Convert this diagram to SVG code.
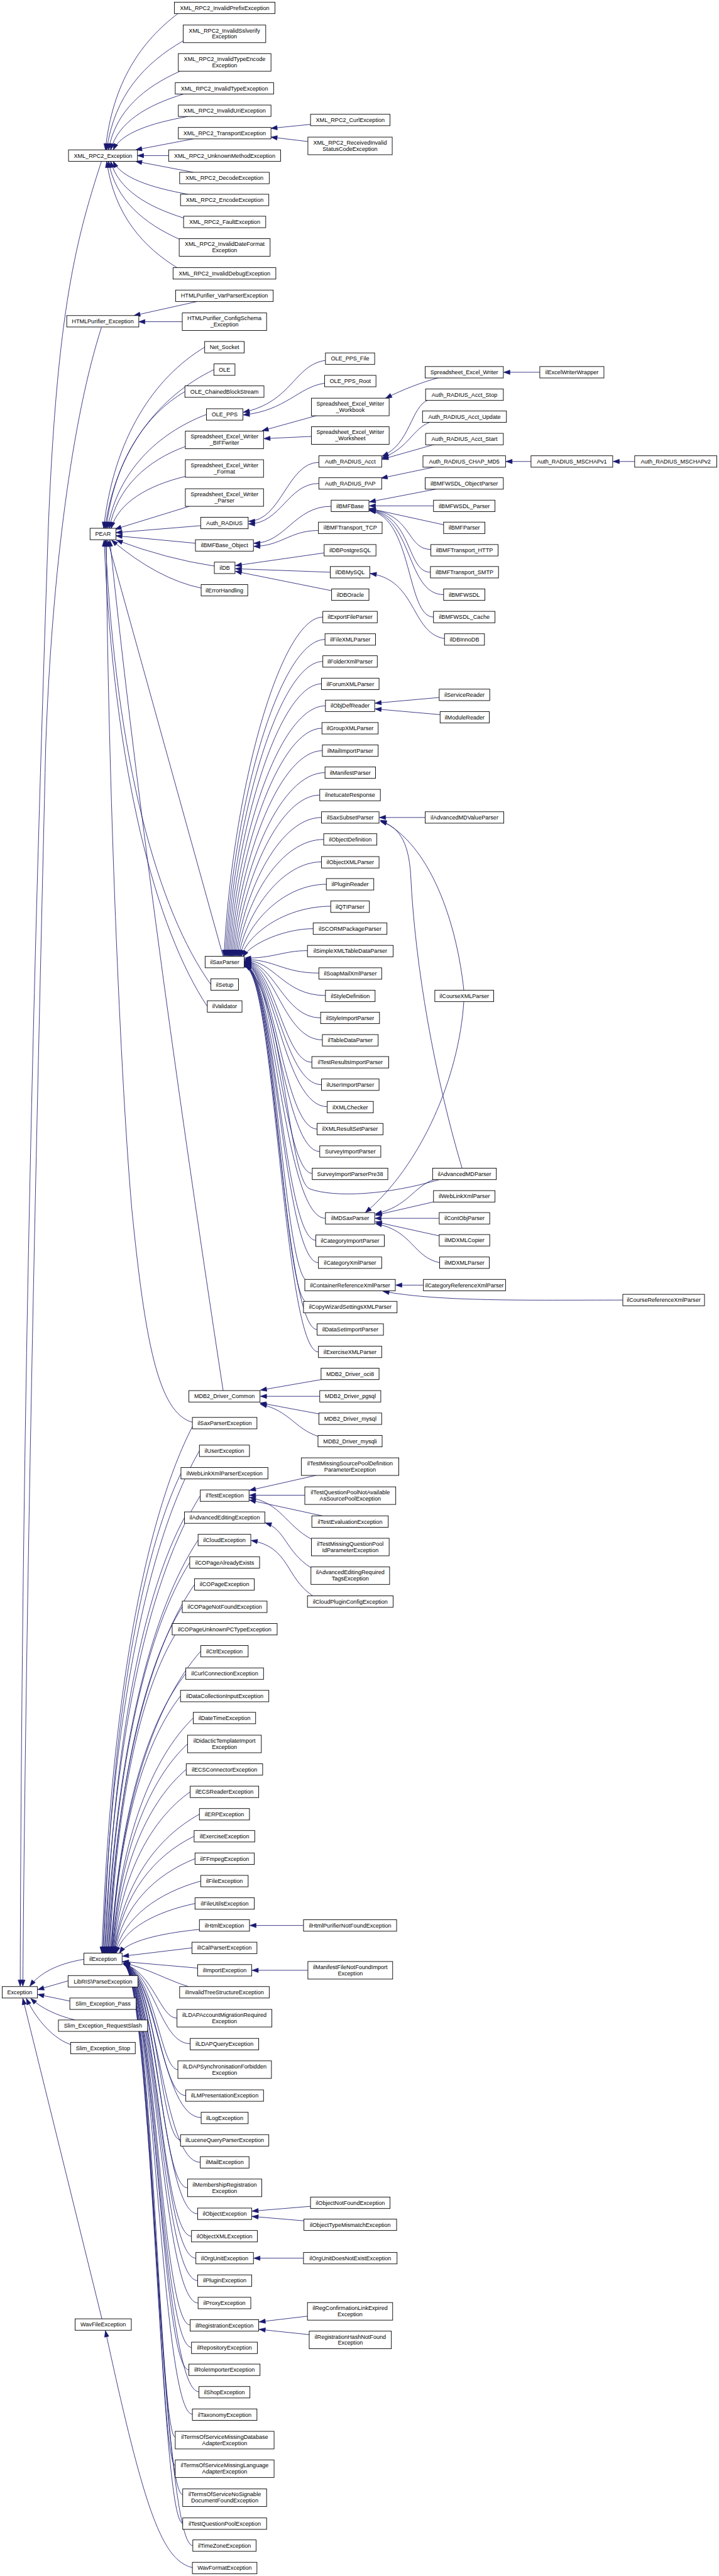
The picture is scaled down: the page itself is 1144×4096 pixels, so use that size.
<svg xmlns="http://www.w3.org/2000/svg" width="1144" height="4096" viewBox="0 0 1144 4096">
<style>
.n rect{fill:#fff;stroke:#000;stroke-width:1.3}
.n text{font-family:"Liberation Sans",Arial,Helvetica,sans-serif;font-size:13px;text-anchor:middle;fill:#000}
.e path{fill:none;stroke:#191970;stroke-width:1.2;marker-end:url(#arr)}
</style>
<defs>
<marker id="arr" markerUnits="userSpaceOnUse" markerWidth="14" markerHeight="10" refX="14" refY="5" orient="auto" overflow="visible">
<path d="M0,0 L14,5 L0,10 z" fill="#191970" stroke="#191970" stroke-width="1"/>
</marker>
</defs>
<rect x="0" y="0" width="1144" height="4096" fill="#fff"/>
<g transform="scale(0.69884)">
<g id="edges" class="e">
<path d="M231,367 C175,540 130,700 110,1200 C90,1800 50,3000 46,4519"/>
<path d="M231,745 C165,950 118,1300 104,1700 C90,2300 60,3500 52,4519"/>
<path d="M191,4458 C130,4468 90,4490 68,4519"/>
<path d="M155,4507 L86,4527"/>
<path d="M159,4553 L86,4538"/>
<path d="M171,4596 C130,4586 95,4570 70,4547"/>
<path d="M161,4652 C125,4640 85,4600 60,4547"/>
<path d="M232,5276 L52,4547"/>
<path d="M405,31 C323,93 256,186 240,341"/>
<path d="M417,93 C330,143 260,217 243,341"/>
<path d="M410,162 C329,198 263,252 247,341"/>
<path d="M418,214 C335,239 269,278 252,341"/>
<path d="M428,265 C343,280 275,303 258,341"/>
<path d="M440,316 L309,341"/>
<path d="M384,354 L313,354"/>
<path d="M440,392 L309,367"/>
<path d="M428,442 C343,427 275,404 258,367"/>
<path d="M418,496 C335,470 269,431 252,367"/>
<path d="M410,545 C329,509 263,456 247,367"/>
<path d="M408,612 C326,563 260,489 243,367"/>
<path d="M707,283 L617,292"/>
<path d="M701,322 L617,312"/>
<path d="M449,686 L305,718"/>
<path d="M415,732 L316,732"/>
<path d="M466,790 C351,859 259,996 236,1202"/>
<path d="M487,841 C363,901 264,1022 239,1202"/>
<path d="M421,891 C332,943 260,1047 242,1202"/>
<path d="M470,943 C358,986 268,1073 245,1202"/>
<path d="M422,1016 C336,1047 266,1109 249,1202"/>
<path d="M422,1084 C338,1104 270,1143 253,1202"/>
<path d="M431,1152 L262,1204"/>
<path d="M457,1196 L264,1212"/>
<path d="M445,1236 L264,1219"/>
<path d="M488,1288 Q380,1272 265,1229"/>
<path d="M458,1338 Q360,1318 254,1229"/>
<path d="M508,2176 L245,1229"/>
<path d="M480,2240 C360,2072 264,1735 240,1229"/>
<path d="M472,2290 C355,2113 260,1760 237,1229"/>
<path d="M508,3164 Q330,2000 250,1229"/>
<path d="M438,3236 C360,3215 330,3050 300,2750 C270,2400 245,1700 242,1229"/>
<path d="M726,1052 C655,1052 640,1186 566,1186"/>
<path d="M726,1100 C655,1100 640,1192 566,1192"/>
<path d="M754,1152 C670,1152 650,1236 578,1236"/>
<path d="M725,1207 C660,1207 640,1243 578,1243"/>
<path d="M738,1258 L536,1287"/>
<path d="M752,1302 L536,1294"/>
<path d="M755,1344 L536,1300"/>
<path d="M741,820 C670,830 665,915 554,938"/>
<path d="M739,872 C680,880 650,935 554,944"/>
<path d="M723,945 L597,980"/>
<path d="M709,993 L601,998"/>
<path d="M1000,859 C960,870 920,885 878,906"/>
<path d="M1229,847 L1147,847"/>
<path d="M975,910 C935,925 935,1010 870,1038"/>
<path d="M978,961 C940,975 930,1020 870,1042"/>
<path d="M990,1011 L870,1045"/>
<path d="M992,1062 L868,1088"/>
<path d="M1209,1050 L1152,1050"/>
<path d="M1445,1050 L1396,1050"/>
<path d="M992,1113 L841,1142"/>
<path d="M987,1151 L841,1151"/>
<path d="M1010,1194 L841,1157"/>
<path d="M981,1250 C925,1250 940,1170 841,1159"/>
<path d="M980,1302 C925,1302 940,1172 841,1160"/>
<path d="M1010,1353 C925,1353 940,1174 841,1161"/>
<path d="M987,1404 C925,1404 940,1176 841,1162"/>
<path d="M1012,1453 C935,1440 950,1320 843,1305"/>
<path d="M735,1404 C640,1404 530,1790 510,2176"/>
<path d="M740,1455 C640,1455 533,1816 513,2176"/>
<path d="M735,1505 C640,1505 536,1841 516,2176"/>
<path d="M732,1556 C640,1556 539,1866 519,2176"/>
<path d="M741,1606 C640,1606 542,1891 522,2176"/>
<path d="M733,1657 C640,1657 545,1917 525,2176"/>
<path d="M734,1708 C640,1708 548,1942 528,2176"/>
<path d="M740,1758 C640,1758 551,1967 531,2176"/>
<path d="M728,1809 C640,1809 554,1993 534,2176"/>
<path d="M732,1860 C640,1860 557,2018 537,2176"/>
<path d="M737,1910 C640,1910 560,2043 540,2176"/>
<path d="M732,1961 C645,1961 563,2069 543,2176"/>
<path d="M743,2012 C650,2012 566,2094 546,2176"/>
<path d="M753,2062 C655,2062 569,2119 549,2176"/>
<path d="M713,2113 C650,2113 573,2145 553,2177"/>
<path d="M700,2163 C645,2163 625,2180 557,2180"/>
<path d="M726,2214 C645,2214 625,2183 557,2183"/>
<path d="M741,2265 C645,2265 625,2185 557,2185"/>
<path d="M730,2316 C645,2316 625,2187 557,2187"/>
<path d="M734,2366 C645,2366 625,2188 557,2188"/>
<path d="M710,2417 C645,2417 625,2189 557,2189"/>
<path d="M732,2468 C645,2468 625,2190 557,2190"/>
<path d="M745,2518 C645,2518 625,2191 557,2191"/>
<path d="M722,2569 C645,2569 625,2192 557,2192"/>
<path d="M728,2620 C645,2620 625,2193 557,2193"/>
<path d="M711,2670 C645,2670 625,2194 557,2194"/>
<path d="M1003,2683 C880,2720 760,2725 705,2705 C655,2685 645,2250 557,2196"/>
<path d="M741,2772 C645,2772 625,2196 557,2196"/>
<path d="M719,2822 C645,2822 625,2197 557,2197"/>
<path d="M725,2873 C645,2873 625,2198 557,2198"/>
<path d="M700,2915 C645,2900 625,2199 557,2199"/>
<path d="M698,2963 C645,2950 625,2199 557,2199"/>
<path d="M722,3025 C645,3025 625,2200 557,2200"/>
<path d="M725,3076 C645,3076 625,2200 557,2200"/>
<path d="M968,1860 L864,1860"/>
<path d="M1056,2253 C1040,2100 980,1920 866,1866"/>
<path d="M1052,2658 C990,2450 945,2200 935,1990 C930,1910 905,1880 866,1869"/>
<path d="M1000,1587 L854,1600"/>
<path d="M1002,1626 L854,1613"/>
<path d="M1056,2279 C1045,2450 960,2650 832,2759"/>
<path d="M990,2683 C940,2700 930,2745 855,2762"/>
<path d="M990,2734 L855,2765"/>
<path d="M1000,2772 L854,2772"/>
<path d="M1000,2812 L855,2780"/>
<path d="M1001,2873 C940,2860 940,2800 855,2784"/>
<path d="M964,2924 L901,2924"/>
<path d="M1418,2958 C1200,2958 1000,2962 872,2938"/>
<path d="M731,3139 L593,3163"/>
<path d="M728,3177 L593,3177"/>
<path d="M726,3217 L592,3192"/>
<path d="M724,3268 C670,3250 660,3210 593,3195"/>
<path d="M438,3246 C335,3446 253,3845 232,4444"/>
<path d="M454,3301 C344,3491 256,3873 234,4444"/>
<path d="M412,3352 C324,3534 254,3898 236,4444"/>
<path d="M456,3403 C347,3577 260,3924 238,4444"/>
<path d="M420,3453 C330,3618 258,3949 240,4444"/>
<path d="M451,3504 C347,3661 263,3974 242,4444"/>
<path d="M432,3555 C338,3703 263,4000 244,4444"/>
<path d="M443,3605 C345,3745 266,4025 246,4444"/>
<path d="M415,3656 C332,3787 265,4050 248,4444"/>
<path d="M399,3719 C325,3840 265,4082 250,4444"/>
<path d="M457,3757 C355,3872 273,4101 252,4444"/>
<path d="M423,3808 C338,3914 270,4126 253,4444"/>
<path d="M411,3859 C333,3957 270,4152 254,4444"/>
<path d="M440,3909 C348,3998 274,4177 255,4444"/>
<path d="M427,3968 C342,4047 273,4206 256,4444"/>
<path d="M424,4026 C341,4096 274,4235 257,4444"/>
<path d="M433,4077 C346,4138 276,4261 258,4444"/>
<path d="M454,4128 C357,4181 279,4286 259,4444"/>
<path d="M442,4178 C351,4222 278,4311 260,4444"/>
<path d="M444,4229 C353,4265 279,4337 261,4444"/>
<path d="M457,4280 C360,4307 282,4362 262,4444"/>
<path d="M444,4331 C354,4350 282,4388 264,4444"/>
<path d="M454,4390 C363,4399 290,4417 272,4444"/>
<path d="M437,4432 L279,4451"/>
<path d="M450,4478 L279,4463"/>
<path d="M429,4520 C380,4505 340,4480 281,4466"/>
<path d="M403,4592 C365,4592 350,4490 281,4467"/>
<path d="M433,4650 C365,4650 352,4490 281,4467"/>
<path d="M405,4709 C365,4709 354,4490 281,4467"/>
<path d="M423,4768 C365,4768 356,4490 281,4468"/>
<path d="M458,4818 C368,4818 357,4490 281,4468"/>
<path d="M411,4869 C365,4869 358,4490 281,4468"/>
<path d="M456,4920 C368,4920 359,4490 281,4468"/>
<path d="M427,4978 C365,4978 360,4490 281,4469"/>
<path d="M450,5037 C368,5037 360,4490 281,4469"/>
<path d="M436,5088 C366,5088 358,4490 281,4469"/>
<path d="M446,5138 C368,5138 357,4490 281,4469"/>
<path d="M450,5189 C368,5189 356,4490 281,4469"/>
<path d="M451,5240 C368,5240 355,4490 281,4469"/>
<path d="M433,5290 C366,5290 354,4490 281,4469"/>
<path d="M436,5341 C366,5341 353,4490 281,4469"/>
<path d="M430,5392 C366,5392 352,4490 281,4469"/>
<path d="M453,5442 C368,5442 351,4490 281,4469"/>
<path d="M438,5493 C366,5493 350,4490 281,4469"/>
<path d="M399,5545 C362,5545 349,4490 281,4469"/>
<path d="M399,5610 C362,5610 348,4490 281,4469"/>
<path d="M416,5676 C364,5676 347,4490 281,4469"/>
<path d="M416,5741 C364,5741 346,4490 281,4469"/>
<path d="M439,5792 C366,5792 345,4490 281,4469"/>
<path d="M719,3357 L568,3391"/>
<path d="M694,3402 L568,3402"/>
<path d="M734,3449 L568,3413"/>
<path d="M709,3502 C650,3470 640,3420 568,3407"/>
<path d="M708,3567 C650,3530 650,3480 604,3465"/>
<path d="M712,3631 C650,3590 660,3520 572,3505"/>
<path d="M691,4381 L569,4381"/>
<path d="M701,4483 L574,4483"/>
<path d="M707,5020 L574,5031"/>
<path d="M692,5053 L574,5043"/>
<path d="M691,5138 L578,5138"/>
<path d="M700,5270 L590,5283"/>
<path d="M704,5312 L590,5300"/>
<path d="M438,5842 C370,5825 330,5720 240,5303"/>
</g>
<g id="nodes">
<g id="Exception" class="n"><rect x="5" y="4520" width="80" height="26"/><text x="45" y="4537.5">Exception</text></g>
<g id="XML_RPC2_Exception" class="n"><rect x="156" y="341" width="157" height="26"/><text x="234.5" y="358.5">XML_RPC2_Exception</text></g>
<g id="HTMLPurifier_Exception" class="n"><rect x="152" y="718" width="164" height="26"/><text x="234" y="735.5">HTMLPurifier_Exception</text></g>
<g id="PEAR" class="n"><rect x="205" y="1202" width="59" height="26"/><text x="234.5" y="1219.5">PEAR</text></g>
<g id="ilException" class="n"><rect x="191" y="4444" width="87" height="26"/><text x="234.5" y="4461.5">ilException</text></g>
<g id="LibRIS_ParseException" class="n"><rect x="155" y="4495" width="159" height="26"/><text x="234.5" y="4512.5">LibRIS\ParseException</text></g>
<g id="Slim_Exception_Pass" class="n"><rect x="159" y="4546" width="151" height="26"/><text x="234.5" y="4563.5">Slim_Exception_Pass</text></g>
<g id="Slim_Exception_RequestSlash" class="n"><rect x="133" y="4596" width="203" height="26"/><text x="234.5" y="4613.5">Slim_Exception_RequestSlash</text></g>
<g id="Slim_Exception_Stop" class="n"><rect x="161" y="4647" width="147" height="26"/><text x="234.5" y="4664.5">Slim_Exception_Stop</text></g>
<g id="WavFileException" class="n"><rect x="171" y="5276" width="128" height="26"/><text x="235" y="5293.5">WavFileException</text></g>
<g id="XML_RPC2_InvalidPrefixException" class="n"><rect x="397" y="5" width="229" height="26"/><text x="511.5" y="22.5">XML_RPC2_InvalidPrefixException</text></g>
<g id="XML_RPC2_InvalidSslverifyException" class="n"><rect x="417" y="57" width="188" height="40"/><text x="511" y="74">XML_RPC2_InvalidSslverify</text><text x="511" y="88">Exception</text></g>
<g id="XML_RPC2_InvalidTypeEncodeException" class="n"><rect x="406" y="122" width="211" height="40"/><text x="511.5" y="139">XML_RPC2_InvalidTypeEncode</text><text x="511.5" y="153">Exception</text></g>
<g id="XML_RPC2_InvalidTypeException" class="n"><rect x="399" y="188" width="224" height="26"/><text x="511" y="205.5">XML_RPC2_InvalidTypeException</text></g>
<g id="XML_RPC2_InvalidUriException" class="n"><rect x="406" y="239" width="211" height="26"/><text x="511.5" y="256.5">XML_RPC2_InvalidUriException</text></g>
<g id="XML_RPC2_TransportException" class="n"><rect x="406" y="290" width="211" height="26"/><text x="511.5" y="307.5">XML_RPC2_TransportException</text></g>
<g id="XML_RPC2_UnknownMethodException" class="n"><rect x="384" y="341" width="255" height="26"/><text x="511.5" y="358.5">XML_RPC2_UnknownMethodException</text></g>
<g id="XML_RPC2_DecodeException" class="n"><rect x="409" y="392" width="204" height="26"/><text x="511" y="409.5">XML_RPC2_DecodeException</text></g>
<g id="XML_RPC2_EncodeException" class="n"><rect x="411" y="442" width="201" height="26"/><text x="511.5" y="459.5">XML_RPC2_EncodeException</text></g>
<g id="XML_RPC2_FaultException" class="n"><rect x="418" y="492" width="187" height="26"/><text x="511.5" y="509.5">XML_RPC2_FaultException</text></g>
<g id="XML_RPC2_InvalidDateFormatException" class="n"><rect x="408" y="543" width="207" height="40"/><text x="511.5" y="560">XML_RPC2_InvalidDateFormat</text><text x="511.5" y="574">Exception</text></g>
<g id="XML_RPC2_InvalidDebugException" class="n"><rect x="394" y="609" width="234" height="26"/><text x="511" y="626.5">XML_RPC2_InvalidDebugException</text></g>
<g id="HTMLPurifier_VarParserException" class="n"><rect x="400" y="660" width="222" height="26"/><text x="511" y="677.5">HTMLPurifier_VarParserException</text></g>
<g id="HTMLPurifier_ConfigSchema_Exception" class="n"><rect x="415" y="712" width="192" height="40"/><text x="511" y="729">HTMLPurifier_ConfigSchema</text><text x="511" y="743">_Exception</text></g>
<g id="Net_Socket" class="n"><rect x="466" y="777" width="90" height="26"/><text x="511" y="794.5">Net_Socket</text></g>
<g id="OLE" class="n"><rect x="487" y="828" width="48" height="26"/><text x="511" y="845.5">OLE</text></g>
<g id="OLE_ChainedBlockStream" class="n"><rect x="421" y="878" width="180" height="26"/><text x="511" y="895.5">OLE_ChainedBlockStream</text></g>
<g id="OLE_PPS" class="n"><rect x="470" y="930" width="83" height="26"/><text x="511.5" y="947.5">OLE_PPS</text></g>
<g id="Spreadsheet_Excel_Writer_BIFFwriter" class="n"><rect x="422" y="981" width="178" height="40"/><text x="511" y="998">Spreadsheet_Excel_Writer</text><text x="511" y="1012">_BIFFwriter</text></g>
<g id="Spreadsheet_Excel_Writer_Format" class="n"><rect x="422" y="1046" width="178" height="40"/><text x="511" y="1063">Spreadsheet_Excel_Writer</text><text x="511" y="1077">_Format</text></g>
<g id="Spreadsheet_Excel_Writer_Parser" class="n"><rect x="422" y="1112" width="178" height="40"/><text x="511" y="1129">Spreadsheet_Excel_Writer</text><text x="511" y="1143">_Parser</text></g>
<g id="Auth_RADIUS" class="n"><rect x="457" y="1177" width="108" height="26"/><text x="511" y="1194.5">Auth_RADIUS</text></g>
<g id="ilBMFBase_Object" class="n"><rect x="445" y="1228" width="132" height="26"/><text x="511" y="1245.5">ilBMFBase_Object</text></g>
<g id="ilDB" class="n"><rect x="488" y="1279" width="47" height="26"/><text x="511.5" y="1296.5">ilDB</text></g>
<g id="ilErrorHandling" class="n"><rect x="458" y="1330" width="106" height="26"/><text x="511" y="1347.5">ilErrorHandling</text></g>
<g id="ilSaxParser" class="n"><rect x="467" y="2176" width="89" height="26"/><text x="511.5" y="2193.5">ilSaxParser</text></g>
<g id="ilSetup" class="n"><rect x="480" y="2227" width="63" height="26"/><text x="511.5" y="2244.5">ilSetup</text></g>
<g id="ilValidator" class="n"><rect x="472" y="2277" width="79" height="26"/><text x="511.5" y="2294.5">ilValidator</text></g>
<g id="MDB2_Driver_Common" class="n"><rect x="430" y="3164" width="162" height="26"/><text x="511" y="3181.5">MDB2_Driver_Common</text></g>
<g id="ilSaxParserException" class="n"><rect x="438" y="3225" width="147" height="26"/><text x="511.5" y="3242.5">ilSaxParserException</text></g>
<g id="ilUserException" class="n"><rect x="454" y="3288" width="114" height="26"/><text x="511" y="3305.5">ilUserException</text></g>
<g id="ilWebLinkXmlParserException" class="n"><rect x="412" y="3339" width="198" height="26"/><text x="511" y="3356.5">ilWebLinkXmlParserException</text></g>
<g id="ilTestException" class="n"><rect x="456" y="3390" width="111" height="26"/><text x="511.5" y="3407.5">ilTestException</text></g>
<g id="ilAdvancedEditingException" class="n"><rect x="420" y="3440" width="183" height="26"/><text x="511.5" y="3457.5">ilAdvancedEditingException</text></g>
<g id="ilCloudException" class="n"><rect x="451" y="3491" width="120" height="26"/><text x="511" y="3508.5">ilCloudException</text></g>
<g id="ilCOPageAlreadyExists" class="n"><rect x="432" y="3542" width="159" height="26"/><text x="511.5" y="3559.5">ilCOPageAlreadyExists</text></g>
<g id="ilCOPageException" class="n"><rect x="443" y="3592" width="136" height="26"/><text x="511" y="3609.5">ilCOPageException</text></g>
<g id="ilCOPageNotFoundException" class="n"><rect x="415" y="3643" width="193" height="26"/><text x="511.5" y="3660.5">ilCOPageNotFoundException</text></g>
<g id="ilCOPageUnknownPCTypeException" class="n"><rect x="392" y="3694" width="239" height="26"/><text x="511.5" y="3711.5">ilCOPageUnknownPCTypeException</text></g>
<g id="ilCtrlException" class="n"><rect x="457" y="3744" width="108" height="26"/><text x="511" y="3761.5">ilCtrlException</text></g>
<g id="ilCurlConnectionException" class="n"><rect x="423" y="3795" width="177" height="26"/><text x="511.5" y="3812.5">ilCurlConnectionException</text></g>
<g id="ilDataCollectionInputException" class="n"><rect x="411" y="3846" width="201" height="26"/><text x="511.5" y="3863.5">ilDataCollectionInputException</text></g>
<g id="ilDateTimeException" class="n"><rect x="440" y="3896" width="142" height="26"/><text x="511" y="3913.5">ilDateTimeException</text></g>
<g id="ilDidacticTemplateImportException" class="n"><rect x="427" y="3948" width="168" height="40"/><text x="511" y="3965">ilDidacticTemplateImport</text><text x="511" y="3979">Exception</text></g>
<g id="ilECSConnectorException" class="n"><rect x="424" y="4013" width="174" height="26"/><text x="511" y="4030.5">ilECSConnectorException</text></g>
<g id="ilECSReaderException" class="n"><rect x="433" y="4064" width="156" height="26"/><text x="511" y="4081.5">ilECSReaderException</text></g>
<g id="ilERPException" class="n"><rect x="454" y="4115" width="114" height="26"/><text x="511" y="4132.5">ilERPException</text></g>
<g id="ilExerciseException" class="n"><rect x="442" y="4165" width="138" height="26"/><text x="511" y="4182.5">ilExerciseException</text></g>
<g id="ilFFmpegException" class="n"><rect x="444" y="4216" width="135" height="26"/><text x="511.5" y="4233.5">ilFFmpegException</text></g>
<g id="ilFileException" class="n"><rect x="457" y="4267" width="108" height="26"/><text x="511" y="4284.5">ilFileException</text></g>
<g id="ilFileUtilsException" class="n"><rect x="444" y="4318" width="135" height="26"/><text x="511.5" y="4335.5">ilFileUtilsException</text></g>
<g id="ilHtmlException" class="n"><rect x="454" y="4368" width="114" height="26"/><text x="511" y="4385.5">ilHtmlException</text></g>
<g id="ilICalParserException" class="n"><rect x="437" y="4419" width="148" height="26"/><text x="511" y="4436.5">ilICalParserException</text></g>
<g id="ilImportException" class="n"><rect x="450" y="4470" width="123" height="26"/><text x="511.5" y="4487.5">ilImportException</text></g>
<g id="ilInvalidTreeStructureException" class="n"><rect x="409" y="4520" width="204" height="26"/><text x="511" y="4537.5">ilInvalidTreeStructureException</text></g>
<g id="ilLDAPAccountMigrationRequiredException" class="n"><rect x="403" y="4572" width="216" height="40"/><text x="511" y="4589">ilLDAPAccountMigrationRequired</text><text x="511" y="4603">Exception</text></g>
<g id="ilLDAPQueryException" class="n"><rect x="433" y="4638" width="156" height="26"/><text x="511" y="4655.5">ilLDAPQueryException</text></g>
<g id="ilLDAPSynchronisationForbiddenException" class="n"><rect x="405" y="4689" width="213" height="40"/><text x="511.5" y="4706">ilLDAPSynchronisationForbidden</text><text x="511.5" y="4720">Exception</text></g>
<g id="ilLMPresentationException" class="n"><rect x="423" y="4755" width="177" height="26"/><text x="511.5" y="4772.5">ilLMPresentationException</text></g>
<g id="ilLogException" class="n"><rect x="458" y="4806" width="107" height="26"/><text x="511.5" y="4823.5">ilLogException</text></g>
<g id="ilLuceneQueryParserException" class="n"><rect x="411" y="4857" width="201" height="26"/><text x="511.5" y="4874.5">ilLuceneQueryParserException</text></g>
<g id="ilMailException" class="n"><rect x="456" y="4907" width="111" height="26"/><text x="511.5" y="4924.5">ilMailException</text></g>
<g id="ilMembershipRegistrationException" class="n"><rect x="427" y="4958" width="169" height="40"/><text x="511.5" y="4975">ilMembershipRegistration</text><text x="511.5" y="4989">Exception</text></g>
<g id="ilObjectException" class="n"><rect x="450" y="5024" width="123" height="26"/><text x="511.5" y="5041.5">ilObjectException</text></g>
<g id="ilObjectXMLException" class="n"><rect x="436" y="5075" width="150" height="26"/><text x="511" y="5092.5">ilObjectXMLException</text></g>
<g id="ilOrgUnitException" class="n"><rect x="446" y="5125" width="131" height="26"/><text x="511.5" y="5142.5">ilOrgUnitException</text></g>
<g id="ilPluginException" class="n"><rect x="450" y="5176" width="123" height="26"/><text x="511.5" y="5193.5">ilPluginException</text></g>
<g id="ilProxyException" class="n"><rect x="451" y="5227" width="120" height="26"/><text x="511" y="5244.5">ilProxyException</text></g>
<g id="ilRegistrationException" class="n"><rect x="433" y="5278" width="156" height="26"/><text x="511" y="5295.5">ilRegistrationException</text></g>
<g id="ilRepositoryException" class="n"><rect x="436" y="5329" width="150" height="26"/><text x="511" y="5346.5">ilRepositoryException</text></g>
<g id="ilRoleImporterException" class="n"><rect x="430" y="5379" width="162" height="26"/><text x="511" y="5396.5">ilRoleImporterException</text></g>
<g id="ilShopException" class="n"><rect x="453" y="5430" width="116" height="26"/><text x="511" y="5447.5">ilShopException</text></g>
<g id="ilTaxonomyException" class="n"><rect x="438" y="5481" width="147" height="26"/><text x="511.5" y="5498.5">ilTaxonomyException</text></g>
<g id="ilTermsOfServiceMissingDatabaseAdapterException" class="n"><rect x="399" y="5532" width="225" height="40"/><text x="511.5" y="5549">ilTermsOfServiceMissingDatabase</text><text x="511.5" y="5563">AdapterException</text></g>
<g id="ilTermsOfServiceMissingLanguageAdapterException" class="n"><rect x="399" y="5597" width="225" height="40"/><text x="511.5" y="5614">ilTermsOfServiceMissingLanguage</text><text x="511.5" y="5628">AdapterException</text></g>
<g id="ilTermsOfServiceNoSignableDocumentFoundException" class="n"><rect x="416" y="5663" width="191" height="40"/><text x="511.5" y="5680">ilTermsOfServiceNoSignable</text><text x="511.5" y="5694">DocumentFoundException</text></g>
<g id="ilTestQuestionPoolException" class="n"><rect x="416" y="5729" width="191" height="26"/><text x="511.5" y="5746.5">ilTestQuestionPoolException</text></g>
<g id="ilTimeZoneException" class="n"><rect x="439" y="5779" width="144" height="26"/><text x="511" y="5796.5">ilTimeZoneException</text></g>
<g id="WavFormatException" class="n"><rect x="438" y="5830" width="147" height="26"/><text x="511.5" y="5847.5">WavFormatException</text></g>
<g id="XML_RPC2_CurlException" class="n"><rect x="707" y="260" width="181" height="26"/><text x="797.5" y="277.5">XML_RPC2_CurlException</text></g>
<g id="XML_RPC2_ReceivedInvalidStatusCodeException" class="n"><rect x="701" y="312" width="192" height="40"/><text x="797" y="329">XML_RPC2_ReceivedInvalid</text><text x="797" y="343">StatusCodeException</text></g>
<g id="OLE_PPS_File" class="n"><rect x="741" y="803" width="112" height="26"/><text x="797" y="820.5">OLE_PPS_File</text></g>
<g id="OLE_PPS_Root" class="n"><rect x="739" y="854" width="117" height="26"/><text x="797.5" y="871.5">OLE_PPS_Root</text></g>
<g id="Spreadsheet_Excel_Writer_Workbook" class="n"><rect x="709" y="906" width="177" height="40"/><text x="797.5" y="923">Spreadsheet_Excel_Writer</text><text x="797.5" y="937">_Workbook</text></g>
<g id="Spreadsheet_Excel_Writer_Worksheet" class="n"><rect x="709" y="971" width="177" height="40"/><text x="797.5" y="988">Spreadsheet_Excel_Writer</text><text x="797.5" y="1002">_Worksheet</text></g>
<g id="Auth_RADIUS_Acct" class="n"><rect x="726" y="1037" width="143" height="26"/><text x="797.5" y="1054.5">Auth_RADIUS_Acct</text></g>
<g id="Auth_RADIUS_PAP" class="n"><rect x="726" y="1087" width="143" height="26"/><text x="797.5" y="1104.5">Auth_RADIUS_PAP</text></g>
<g id="ilBMFBase" class="n"><rect x="754" y="1138" width="86" height="26"/><text x="797" y="1155.5">ilBMFBase</text></g>
<g id="ilBMFTransport_TCP" class="n"><rect x="725" y="1188" width="145" height="26"/><text x="797.5" y="1205.5">ilBMFTransport_TCP</text></g>
<g id="ilDBPostgreSQL" class="n"><rect x="738" y="1239" width="118" height="26"/><text x="797" y="1256.5">ilDBPostgreSQL</text></g>
<g id="ilDBMySQL" class="n"><rect x="752" y="1289" width="90" height="26"/><text x="797" y="1306.5">ilDBMySQL</text></g>
<g id="ilDBOracle" class="n"><rect x="755" y="1340" width="85" height="26"/><text x="797.5" y="1357.5">ilDBOracle</text></g>
<g id="ilExportFileParser" class="n"><rect x="735" y="1391" width="124" height="26"/><text x="797" y="1408.5">ilExportFileParser</text></g>
<g id="ilFileXMLParser" class="n"><rect x="740" y="1442" width="115" height="26"/><text x="797.5" y="1459.5">ilFileXMLParser</text></g>
<g id="ilFolderXmlParser" class="n"><rect x="735" y="1492" width="124" height="26"/><text x="797" y="1509.5">ilFolderXmlParser</text></g>
<g id="ilForumXMLParser" class="n"><rect x="732" y="1543" width="131" height="26"/><text x="797.5" y="1560.5">ilForumXMLParser</text></g>
<g id="ilObjDefReader" class="n"><rect x="741" y="1593" width="112" height="26"/><text x="797" y="1610.5">ilObjDefReader</text></g>
<g id="ilGroupXMLParser" class="n"><rect x="733" y="1644" width="128" height="26"/><text x="797" y="1661.5">ilGroupXMLParser</text></g>
<g id="ilMailImportParser" class="n"><rect x="734" y="1695" width="127" height="26"/><text x="797.5" y="1712.5">ilMailImportParser</text></g>
<g id="ilManifestParser" class="n"><rect x="740" y="1745" width="115" height="26"/><text x="797.5" y="1762.5">ilManifestParser</text></g>
<g id="ilnetucateResponse" class="n"><rect x="728" y="1796" width="138" height="26"/><text x="797" y="1813.5">ilnetucateResponse</text></g>
<g id="ilSaxSubsetParser" class="n"><rect x="732" y="1847" width="131" height="26"/><text x="797.5" y="1864.5">ilSaxSubsetParser</text></g>
<g id="ilObjectDefinition" class="n"><rect x="737" y="1897" width="121" height="26"/><text x="797.5" y="1914.5">ilObjectDefinition</text></g>
<g id="ilObjectXMLParser" class="n"><rect x="732" y="1949" width="131" height="26"/><text x="797.5" y="1966.5">ilObjectXMLParser</text></g>
<g id="ilPluginReader" class="n"><rect x="743" y="1999" width="108" height="26"/><text x="797" y="2016.5">ilPluginReader</text></g>
<g id="ilQTIParser" class="n"><rect x="753" y="2050" width="88" height="26"/><text x="797" y="2067.5">ilQTIParser</text></g>
<g id="ilSCORMPackageParser" class="n"><rect x="713" y="2100" width="168" height="26"/><text x="797" y="2117.5">ilSCORMPackageParser</text></g>
<g id="ilSimpleXMLTableDataParser" class="n"><rect x="700" y="2151" width="195" height="26"/><text x="797.5" y="2168.5">ilSimpleXMLTableDataParser</text></g>
<g id="ilSoapMailXmlParser" class="n"><rect x="726" y="2202" width="143" height="26"/><text x="797.5" y="2219.5">ilSoapMailXmlParser</text></g>
<g id="ilStyleDefinition" class="n"><rect x="741" y="2253" width="113" height="26"/><text x="797.5" y="2270.5">ilStyleDefinition</text></g>
<g id="ilStyleImportParser" class="n"><rect x="730" y="2303" width="134" height="26"/><text x="797" y="2320.5">ilStyleImportParser</text></g>
<g id="ilTableDataParser" class="n"><rect x="734" y="2354" width="127" height="26"/><text x="797.5" y="2371.5">ilTableDataParser</text></g>
<g id="ilTestResultsImportParser" class="n"><rect x="710" y="2404" width="175" height="26"/><text x="797.5" y="2421.5">ilTestResultsImportParser</text></g>
<g id="ilUserImportParser" class="n"><rect x="732" y="2455" width="131" height="26"/><text x="797.5" y="2472.5">ilUserImportParser</text></g>
<g id="ilXMLChecker" class="n"><rect x="745" y="2506" width="105" height="26"/><text x="797.5" y="2523.5">ilXMLChecker</text></g>
<g id="ilXMLResultSetParser" class="n"><rect x="722" y="2556" width="150" height="26"/><text x="797" y="2573.5">ilXMLResultSetParser</text></g>
<g id="SurveyImportParser" class="n"><rect x="728" y="2607" width="139" height="26"/><text x="797.5" y="2624.5">SurveyImportParser</text></g>
<g id="SurveyImportParserPre38" class="n"><rect x="711" y="2658" width="172" height="26"/><text x="797" y="2675.5">SurveyImportParserPre38</text></g>
<g id="ilMDSaxParser" class="n"><rect x="741" y="2759" width="112" height="26"/><text x="797" y="2776.5">ilMDSaxParser</text></g>
<g id="ilCategoryImportParser" class="n"><rect x="719" y="2810" width="156" height="26"/><text x="797" y="2827.5">ilCategoryImportParser</text></g>
<g id="ilCategoryXmlParser" class="n"><rect x="725" y="2860" width="144" height="26"/><text x="797" y="2877.5">ilCategoryXmlParser</text></g>
<g id="ilContainerReferenceXmlParser" class="n"><rect x="694" y="2911" width="206" height="26"/><text x="797" y="2928.5">ilContainerReferenceXmlParser</text></g>
<g id="ilCopyWizardSettingsXMLParser" class="n"><rect x="691" y="2961" width="213" height="26"/><text x="797.5" y="2978.5">ilCopyWizardSettingsXMLParser</text></g>
<g id="ilDataSetImportParser" class="n"><rect x="722" y="3012" width="151" height="26"/><text x="797.5" y="3029.5">ilDataSetImportParser</text></g>
<g id="ilExerciseXMLParser" class="n"><rect x="725" y="3063" width="144" height="26"/><text x="797" y="3080.5">ilExerciseXMLParser</text></g>
<g id="MDB2_Driver_oci8" class="n"><rect x="731" y="3113" width="132" height="26"/><text x="797" y="3130.5">MDB2_Driver_oci8</text></g>
<g id="MDB2_Driver_pgsql" class="n"><rect x="728" y="3164" width="139" height="26"/><text x="797.5" y="3181.5">MDB2_Driver_pgsql</text></g>
<g id="MDB2_Driver_mysql" class="n"><rect x="726" y="3215" width="143" height="26"/><text x="797.5" y="3232.5">MDB2_Driver_mysql</text></g>
<g id="MDB2_Driver_mysqli" class="n"><rect x="724" y="3266" width="146" height="26"/><text x="797" y="3283.5">MDB2_Driver_mysqli</text></g>
<g id="ilTestMissingSourcePoolDefinitionParameterException" class="n"><rect x="686" y="3317" width="222" height="40"/><text x="797" y="3334">ilTestMissingSourcePoolDefinition</text><text x="797" y="3348">ParameterException</text></g>
<g id="ilTestQuestionPoolNotAvailableAsSourcePoolException" class="n"><rect x="694" y="3383" width="207" height="40"/><text x="797.5" y="3400">ilTestQuestionPoolNotAvailable</text><text x="797.5" y="3414">AsSourcePoolException</text></g>
<g id="ilTestEvaluationException" class="n"><rect x="710" y="3449" width="174" height="26"/><text x="797" y="3466.5">ilTestEvaluationException</text></g>
<g id="ilTestMissingQuestionPoolIdParameterException" class="n"><rect x="709" y="3500" width="177" height="40"/><text x="797.5" y="3517">ilTestMissingQuestionPool</text><text x="797.5" y="3531">IdParameterException</text></g>
<g id="ilAdvancedEditingRequiredTagsException" class="n"><rect x="708" y="3565" width="179" height="40"/><text x="797.5" y="3582">ilAdvancedEditingRequired</text><text x="797.5" y="3596">TagsException</text></g>
<g id="ilCloudPluginConfigException" class="n"><rect x="700" y="3631" width="195" height="26"/><text x="797.5" y="3648.5">ilCloudPluginConfigException</text></g>
<g id="ilHtmlPurifierNotFoundException" class="n"><rect x="691" y="4368" width="212" height="26"/><text x="797" y="4385.5">ilHtmlPurifierNotFoundException</text></g>
<g id="ilManifestFileNotFoundImportException" class="n"><rect x="701" y="4463" width="193" height="40"/><text x="797.5" y="4480">ilManifestFileNotFoundImport</text><text x="797.5" y="4494">Exception</text></g>
<g id="ilObjectNotFoundException" class="n"><rect x="707" y="4999" width="181" height="26"/><text x="797.5" y="5016.5">ilObjectNotFoundException</text></g>
<g id="ilObjectTypeMismatchException" class="n"><rect x="692" y="5049" width="211" height="26"/><text x="797.5" y="5066.5">ilObjectTypeMismatchException</text></g>
<g id="ilOrgUnitDoesNotExistException" class="n"><rect x="691" y="5125" width="213" height="26"/><text x="797.5" y="5142.5">ilOrgUnitDoesNotExistException</text></g>
<g id="ilRegConfirmationLinkExpiredException" class="n"><rect x="700" y="5239" width="194" height="40"/><text x="797" y="5256">ilRegConfirmationLinkExpired</text><text x="797" y="5270">Exception</text></g>
<g id="ilRegistrationHashNotFoundException" class="n"><rect x="704" y="5304" width="187" height="40"/><text x="797.5" y="5321">ilRegistrationHashNotFound</text><text x="797.5" y="5335">Exception</text></g>
<g id="Spreadsheet_Excel_Writer" class="n"><rect x="968" y="834" width="178" height="26"/><text x="1057" y="851.5">Spreadsheet_Excel_Writer</text></g>
<g id="Auth_RADIUS_Acct_Stop" class="n"><rect x="969" y="885" width="177" height="26"/><text x="1057.5" y="902.5">Auth_RADIUS_Acct_Stop</text></g>
<g id="Auth_RADIUS_Acct_Update" class="n"><rect x="962" y="935" width="191" height="26"/><text x="1057.5" y="952.5">Auth_RADIUS_Acct_Update</text></g>
<g id="Auth_RADIUS_Acct_Start" class="n"><rect x="969" y="986" width="177" height="26"/><text x="1057.5" y="1003.5">Auth_RADIUS_Acct_Start</text></g>
<g id="Auth_RADIUS_CHAP_MD5" class="n"><rect x="963" y="1037" width="188" height="26"/><text x="1057" y="1054.5">Auth_RADIUS_CHAP_MD5</text></g>
<g id="ilBMFWSDL_ObjectParser" class="n"><rect x="968" y="1087" width="178" height="26"/><text x="1057" y="1104.5">ilBMFWSDL_ObjectParser</text></g>
<g id="ilBMFWSDL_Parser" class="n"><rect x="987" y="1138" width="140" height="26"/><text x="1057" y="1155.5">ilBMFWSDL_Parser</text></g>
<g id="ilBMFParser" class="n"><rect x="1010" y="1188" width="94" height="26"/><text x="1057" y="1205.5">ilBMFParser</text></g>
<g id="ilBMFTransport_HTTP" class="n"><rect x="981" y="1239" width="153" height="26"/><text x="1057.5" y="1256.5">ilBMFTransport_HTTP</text></g>
<g id="ilBMFTransport_SMTP" class="n"><rect x="980" y="1289" width="155" height="26"/><text x="1057.5" y="1306.5">ilBMFTransport_SMTP</text></g>
<g id="ilBMFWSDL" class="n"><rect x="1010" y="1340" width="94" height="26"/><text x="1057" y="1357.5">ilBMFWSDL</text></g>
<g id="ilBMFWSDL_Cache" class="n"><rect x="987" y="1391" width="140" height="26"/><text x="1057" y="1408.5">ilBMFWSDL_Cache</text></g>
<g id="ilDBInnoDB" class="n"><rect x="1012" y="1442" width="91" height="26"/><text x="1057.5" y="1459.5">ilDBInnoDB</text></g>
<g id="ilServiceReader" class="n"><rect x="1000" y="1568" width="115" height="26"/><text x="1057.5" y="1585.5">ilServiceReader</text></g>
<g id="ilModuleReader" class="n"><rect x="1002" y="1619" width="112" height="26"/><text x="1058" y="1636.5">ilModuleReader</text></g>
<g id="ilAdvancedMDValueParser" class="n"><rect x="968" y="1847" width="179" height="26"/><text x="1057.5" y="1864.5">ilAdvancedMDValueParser</text></g>
<g id="ilCourseXMLParser" class="n"><rect x="990" y="2253" width="134" height="26"/><text x="1057" y="2270.5">ilCourseXMLParser</text></g>
<g id="ilAdvancedMDParser" class="n"><rect x="985" y="2658" width="145" height="26"/><text x="1057.5" y="2675.5">ilAdvancedMDParser</text></g>
<g id="ilWebLinkXmlParser" class="n"><rect x="987" y="2709" width="140" height="26"/><text x="1057" y="2726.5">ilWebLinkXmlParser</text></g>
<g id="ilContObjParser" class="n"><rect x="1000" y="2759" width="115" height="26"/><text x="1057.5" y="2776.5">ilContObjParser</text></g>
<g id="ilMDXMLCopier" class="n"><rect x="1000" y="2809" width="115" height="26"/><text x="1057.5" y="2826.5">ilMDXMLCopier</text></g>
<g id="ilMDXMLParser" class="n"><rect x="1001" y="2860" width="113" height="26"/><text x="1057.5" y="2877.5">ilMDXMLParser</text></g>
<g id="ilCategoryReferenceXmlParser" class="n"><rect x="964" y="2911" width="187" height="26"/><text x="1057.5" y="2928.5">ilCategoryReferenceXmlParser</text></g>
<g id="ilExcelWriterWrapper" class="n"><rect x="1229" y="834" width="146" height="26"/><text x="1302" y="851.5">ilExcelWriterWrapper</text></g>
<g id="Auth_RADIUS_MSCHAPv1" class="n"><rect x="1209" y="1037" width="186" height="26"/><text x="1302" y="1054.5">Auth_RADIUS_MSCHAPv1</text></g>
<g id="Auth_RADIUS_MSCHAPv2" class="n"><rect x="1445" y="1037" width="187" height="26"/><text x="1538.5" y="1054.5">Auth_RADIUS_MSCHAPv2</text></g>
<g id="ilCourseReferenceXmlParser" class="n"><rect x="1418" y="2945" width="186" height="26"/><text x="1511" y="2962.5">ilCourseReferenceXmlParser</text></g>
</g>
</g>
</svg>
